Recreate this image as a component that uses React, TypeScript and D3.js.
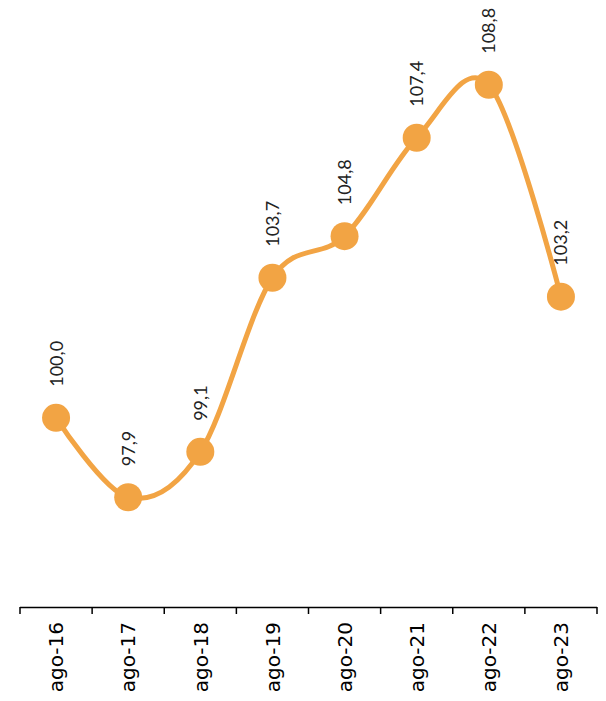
import { curveCardinal, line, scaleBand, scaleLinear } from 'd3'

const categories = ['ago-16', 'ago-17', 'ago-18', 'ago-19', 'ago-20', 'ago-21', 'ago-22', 'ago-23']
const values = [100.0, 97.9, 99.1, 103.7, 104.8, 107.4, 108.8, 103.2]

const width = 606
const height = 701
const margin = { top: 1.5, right: 9, bottom: 94, left: 20 }
const axisY = height - margin.bottom
const orange = '#F2A444'
const labelFont = "'Century Gothic', Lato, 'Open Sans', sans-serif"
const axisFont = "'Century Gothic', 'DejaVu Sans', sans-serif"

const fmt = (v: number) => v.toFixed(1).replace('.', ',')

const App = () => {
  const x = scaleBand<string>()
    .domain(categories)
    .range([margin.left, width - margin.right])
    .padding(0)

  const y = scaleLinear().domain([95, 111]).range([axisY, margin.top])

  const points = categories.map((c, i) => ({
    cx: (x(c) ?? 0) + x.bandwidth() / 2,
    cy: y(values[i]),
    value: values[i],
    cat: c,
  }))

  const path = line<{ cx: number; cy: number }>()
    .x((d) => d.cx)
    .y((d) => d.cy)
    .curve(curveCardinal.tension(0))(points) ?? ''

  const tickXs = [...categories.map((c) => x(c) ?? 0), width - margin.right]

  return (
    <svg
      width={width}
      height={height}
      viewBox={`0 0 ${width} ${height}`}
      style={{ position: 'absolute', left: 0, top: 0, background: 'white' }}
    >
      <g>
        <line x1={margin.left} x2={width - margin.right} y1={axisY + 0.5} y2={axisY + 0.5} stroke="#000" strokeWidth={1.5} />
        {tickXs.map((tx) => (
          <line key={tx} x1={tx} x2={tx} y1={axisY} y2={axisY + 7} stroke="#000" strokeWidth={1.5} />
        ))}
        {points.map((p) => (
          <text
            key={p.cat}
            transform={`translate(${p.cx}, ${axisY + 15}) rotate(-90)`}
            textAnchor="end"
            dy="0.36em"
            fontSize={20}
            fontFamily={axisFont}
            fill="#000"
          >
            {p.cat}
          </text>
        ))}
      </g>

      <path d={path} fill="none" stroke={orange} strokeWidth={5} strokeLinejoin="round" />

      {points.map((p) => (
        <circle key={p.cat} cx={p.cx} cy={p.cy} r={14} fill={orange} />
      ))}

      {points.map((p) => (
        <text
          key={`l-${p.cat}`}
          transform={`translate(${p.cx}, ${p.cy - 31}) rotate(-90)`}
          textAnchor="start"
          dy="0.36em"
          fontSize={18}
          fontFamily={labelFont}
          fill="#222"
        >
          {fmt(p.value)}
        </text>
      ))}
    </svg>
  )
}

export default App
